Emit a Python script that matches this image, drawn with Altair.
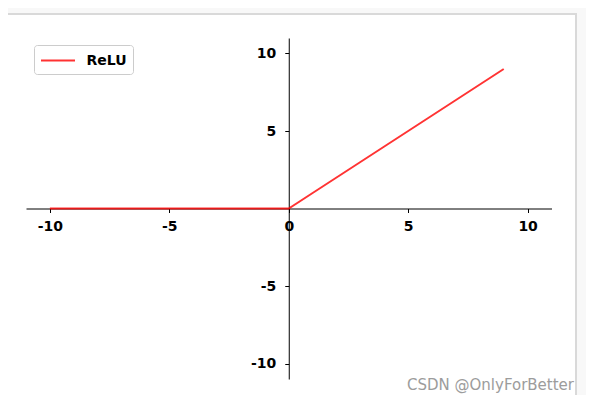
import altair as alt
import pandas as pd

# data
x_vals = [-10, -9, -8, -7, -6, -5, -4, -3, -2, -1, 0, 1, 2, 3, 4, 5, 6, 7, 8, 9]
y_vals = [0, 0, 0, 0, 0, 0, 0, 0, 0, 0, 0, 1, 2, 3, 4, 5, 6, 7, 8, 9]
series_name = "ReLU"
x_ticks = [-10, -5, 0, 5, 10]
y_ticks = [-10, -5, 5, 10]
watermark = "CSDN @OnlyForBetter"

df = pd.DataFrame({"x": x_vals, "y": y_vals, "series": [series_name] * len(x_vals)})

W, H = 568, 381
X_RANGE = [18, 543.5]
Y_RANGE = [365, 24]
x_zero = (X_RANGE[0] + X_RANGE[1]) / 2
y_zero = (Y_RANGE[0] + Y_RANGE[1]) / 2

frame = alt.Chart(pd.DataFrame({"a": [0]})).mark_rect(
    fill=None, stroke="#d9d9d9", strokeWidth=2
).encode(
    x=alt.value(-10), x2=alt.value(W), y=alt.value(0), y2=alt.value(H + 20)
)

line = alt.Chart(df).mark_line(strokeWidth=2, opacity=0.8).encode(
    x=alt.X("x:Q",
            scale=alt.Scale(domain=[-11, 11], range=X_RANGE, nice=False, zero=False),
            axis=alt.Axis(values=x_ticks, title=None, grid=False, orient="bottom",
                          offset=-(H - y_zero), labelPadding=7, labelFlush=False,
                          labelOverlap=False, labelExpr="'' + datum.value")),
    y=alt.Y("y:Q",
            scale=alt.Scale(domain=[-11, 11], range=Y_RANGE, nice=False, zero=False),
            axis=alt.Axis(values=y_ticks, title=None, grid=False, orient="left",
                          offset=-x_zero, labelPadding=9, labelFlush=False,
                          labelOverlap=False, labelExpr="'' + datum.value")),
    color=alt.Color("series:N",
                    scale=alt.Scale(domain=[series_name], range=["#ff0000"]),
                    legend=alt.Legend(title=None, orient="none", legendX=26, legendY=31,
                                      symbolType="M-2,0L2,0", symbolSize=289,
                                      symbolOffset=8.5,
                                      symbolStrokeWidth=2, symbolOpacity=0.8,
                                      labelFont="DejaVu Sans", labelFontWeight="bold",
                                      labelFontSize=14, labelColor="black",
                                      labelOffset=19, padding=6,
                                      strokeColor="#cccccc", fillColor="white",
                                      cornerRadius=3)),
)

wm = alt.Chart(pd.DataFrame({"t": [watermark]})).mark_text(
    align="right", baseline="alphabetic", font="DejaVu Sans", fontSize=15,
    color="#9c9c9c"
).encode(text="t:N", x=alt.value(566), y=alt.value(376))

chart = alt.layer(frame, line, wm).properties(
    width=W, height=H,
    autosize=alt.AutoSizeParams(type="none"),
    padding={"left": 0, "top": 6, "right": 10, "bottom": 0},
    background="#f8f8f8",
).configure_view(stroke=None, fill="white").configure_axis(
    domainColor="black", domainWidth=1, tickColor="black", tickSize=4, tickWidth=1,
    labelFont="DejaVu Sans", labelFontWeight="bold", labelFontSize=14, labelColor="black",
)

chart.save("out.html", embed_options={"renderer": "svg", "actions": False})
